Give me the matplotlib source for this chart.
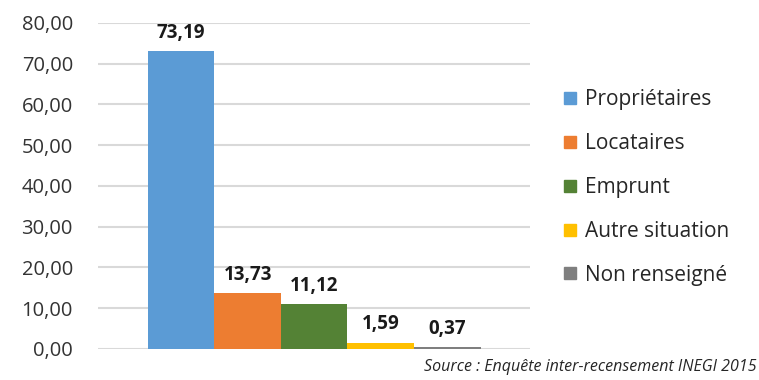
import matplotlib
matplotlib.use("Agg")
import matplotlib.pyplot as plt
from matplotlib.lines import Line2D

categories = ["Propriétaires", "Locataires", "Emprunt", "Autre situation", "Non renseigné"]
values = [73.19, 13.73, 11.12, 1.59, 0.37]
colors = ["#5B9BD5", "#ED7D31", "#548235", "#FFC000", "#7F7F7F"]
yticks = [0, 10, 20, 30, 40, 50, 60, 70, 80]

plt.rcParams["font.family"] = ["Open Sans", "DejaVu Sans"]

fig = plt.figure(figsize=(7.59, 3.8), dpi=100)
ax = fig.add_axes([0.129, 0.0816, 0.569, 0.858])

x = list(range(len(values)))
for xi, v, c, lab in zip(x, values, colors, categories):
    ax.bar(xi, v, width=1.0, color=c, label=lab, zorder=3)
    ax.text(xi, v + 2.0, f"{v:.2f}".replace(".", ","), ha="center", va="bottom",
            fontsize=13.5, fontweight="bold", color="#1a1a1a")

ax.set_xlim(-1.25, 5.24)
ax.set_ylim(0, 80)
ax.set_yticks(yticks)
ax.set_yticklabels([f"{t:.2f}".replace(".", ",") for t in yticks], fontsize=14.5, color="#333333")
ax.set_xticks([])
ax.tick_params(axis="y", length=0, pad=18)
ax.grid(axis="y", color="#D9D9D9", linewidth=1.5, zorder=0)
for s in ax.spines.values():
    s.set_visible(False)

handles = [Line2D([0], [0], marker="s", linestyle="", markersize=9,
                  markerfacecolor=c, markeredgecolor=c) for c in colors]
fig.legend(handles, categories, loc="upper left", bbox_to_anchor=(0.715, 0.815),
           frameon=False, fontsize=15, handlelength=0.8, handletextpad=0.35,
           labelspacing=1.1, labelcolor="#262626")

fig.text(0.997, 0.012, "Source : Enquête inter-recensement INEGI 2015", ha="right",
         va="bottom", fontsize=11.5, style="italic", color="#262626")

fig.savefig("out.png", dpi=100)
